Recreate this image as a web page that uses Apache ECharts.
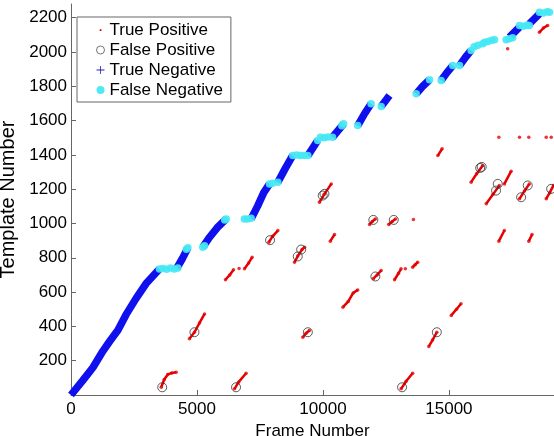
<!DOCTYPE html>
<html>
<head>
<meta charset="utf-8">
<script src="https://cdn.jsdelivr.net/npm/echarts@6/dist/echarts.min.js"></script>
<style>
html,body{margin:0;padding:0;background:#fff;}
#chart{width:554px;height:436px;}
</style>
</head>
<body>
<div id="chart"></div>
<script>
// ---- data: [frame, template] ----
const legendNames = ['True Positive', 'False Positive', 'True Negative', 'False Negative'];
const xTicks = [0, 5000, 10000, 15000];
const yTicks = [200, 400, 600, 800, 1000, 1200, 1400, 1600, 1800, 2000, 2200];

// True Negative traces (blue)
const tnSegments = [
  [[0,0],[470,85],[870,160],[1260,255],[1530,312],[1860,378],[2190,470],[2590,565],[2980,650],[3510,735]],
  [[4200,740],[4400,790],[4640,858]],
  [[5230,862],[5500,920],[5800,975],[6160,1027]],
  [[7150,1027],[7400,1100],[7650,1180],[7880,1231]],
  [[8210,1241],[8500,1320],[8800,1397]],
  [[9400,1396],[9790,1484]],
  [[10380,1503],[10820,1581]],
  [[11380,1571],[11650,1640],[11910,1698]],
  [[12310,1682],[12640,1746]],
  [[13700,1756],[13960,1800],[14230,1838]],
  [[14690,1834],[14920,1880],[15150,1921]],
  [[15420,1921],[15650,1968],[15880,2009]],
  [[17400,2086],[17800,2145]],
  [[18190,2164],[18590,2222]]
];

// False Negative points (cyan)
const fnPoints = [
  [3510,735],[3650,738],[3800,733],[3950,740],[4100,735],[4240,740],
  [4640,858],[4580,850],
  [5230,862],[5300,870],[6100,1020],[6160,1027],
  [6880,1027],[7000,1027],[7150,1030],
  [7880,1231],[8000,1235],[8210,1241],
  [8800,1397],[8950,1400],[9100,1397],[9250,1396],[9400,1396],
  [9790,1484],[9900,1503],[10050,1500],[10200,1505],[10380,1503],
  [10750,1570],[10820,1581],
  [11380,1571],[11910,1698],
  [12310,1682],
  [13700,1756],[14230,1838],
  [14690,1834],[15150,1921],
  [15420,1921],
  [15880,2009],[16000,2030],[16150,2040],[16340,2048],[16410,2057],[16550,2062],[16700,2068],[16810,2071],
  [17270,2071],[17400,2078],[17530,2083],
  [17800,2154],[17950,2150],[18100,2158],[18190,2154],
  [18590,2232],[18750,2228],[18900,2235],[18990,2232]
];

// True Positive traces (red)
const tpSegments = [
  [[3580,45],[3700,90],[3840,120],[4000,128],[4175,133]],
  [[4700,328],[4900,366],[5100,420],[5300,473]],
  [[6490,36],[6650,75],[6950,127]],
  [[6130,672],[6300,700],[6450,730]],
  [[6885,736],[7050,770],[7190,803]],
  [[7850,891],[8000,925],[8210,959]],
  [[8870,774],[9000,810],[9170,848],[9270,862]],
  [[9200,337],[9330,360],[9460,376]],
  [[14560,1396],[14730,1436]],
  [[15880,1241],[16100,1290],[16340,1338]],
  [[17200,1231],[17470,1305]],
  [[16480,1115],[16750,1170],[17000,1222]],
  [[17800,1144],[18000,1190],[18190,1231]],
  [[18860,1144],[19000,1180],[19150,1222]],
  [[9860,1124],[10050,1170],[10330,1231]],
  [[11850,994],[11960,1012],[12080,1027]],
  [[12610,994],[12750,1012],[12880,1027]],
  [[10290,897],[10460,936]],
  [[16980,897],[17200,959]],
  [[18170,897],[18300,936]],
  [[12000,678],[12150,700],[12310,726]],
  [[12840,672],[13000,710],[13100,736]],
  [[13560,745],[13660,760],[13760,774]],
  [[10790,512],[11000,545],[11200,595],[11380,613]],
  [[15090,464],[15300,500],[15480,532]],
  [[14200,283],[14350,320],[14520,366]],
  [[13100,36],[13300,80],[13560,127]],
  [[18590,2115],[18750,2140],[18920,2155]]
];
// isolated True Positive detections
const tpDots = [
  [6670,738],[13270,736],[13590,1023],[17330,2019],
  [16980,1503],[17800,1503],[18170,1503],[18860,1503],[19060,1503]
];

// False Positive points (open circles)
const fpPoints = [
  [3620,45],[4900,366],[6550,45],[7900,903],[9000,808],[9135,848],[9400,366],
  [9990,1163],[10060,1173],[12000,1021],[12810,1021],[12080,691],[13140,45],[14520,366],
  [16240,1324],[16300,1330],[16937,1231],[16870,1192],[18127,1222],[17865,1153],[19056,1202]
];

// ---- build ----
function joinSegments(segs){
  const out = [];
  segs.forEach((s, i) => { if (i) out.push(null); s.forEach(p => out.push(p)); });
  return out;
}
const tpAllDots = [].concat(...tpSegments).concat(tpDots);

const FONT = '"Liberation Sans", Arial, sans-serif';
const chart = echarts.init(document.getElementById('chart'), null, {renderer:'canvas'});
chart.setOption({
  animation: false,
  backgroundColor: '#fff',
  grid: {left: 71, right: 0, top: 4, bottom: 41, containLabel: false, outerBoundsMode: 'none'},
  xAxis: {
    type: 'value', min: 0, max: 19170, interval: 5000,
    name: 'Frame Number', nameLocation: 'middle', nameGap: 21,
    nameTextStyle: {fontSize: 17, color: '#000', fontFamily: FONT},
    axisLine: {lineStyle: {color: '#666', width: 1}},
    axisTick: {inside: true, length: 5, lineStyle: {color: '#666'}},
    axisLabel: {fontSize: 17, color: '#000', fontFamily: FONT, margin: 6, showMaxLabel: false,
      formatter: v => xTicks.includes(v) ? String(v) : ''},
    splitLine: {show: false}
  },
  yAxis: {
    type: 'value', min: 0, max: 2280, interval: 200,
    name: 'Template Number', nameLocation: 'middle', nameGap: 44,
    nameTextStyle: {fontSize: 20, color: '#000', fontFamily: FONT},
    axisLine: {show: true, lineStyle: {color: '#666', width: 1}},
    axisTick: {show: true, inside: true, length: 5, lineStyle: {color: '#666'}},
    axisLabel: {fontSize: 17, color: '#000', fontFamily: FONT, margin: 4, showMaxLabel: false,
      formatter: v => yTicks.includes(v) ? String(v) : ''},
    splitLine: {show: false}
  },
  legend: {
    orient: 'vertical', left: 77, top: 17,
    backgroundColor: '#fff', borderColor: '#666', borderWidth: 1,
    padding: [3, 8, 2, 19],
    itemWidth: 8, itemHeight: 8, itemGap: 0, itemTextGap: 16,
    textStyle: {fontSize: 17, color: '#000', fontFamily: FONT, lineHeight: 20},
    data: [
      {name: legendNames[0], icon: 'path://M0 0L0.01 0M10 10L9.99 10M4 4H6.2V6.2H4Z', itemStyle: {color: '#e00000'}},
      {name: legendNames[1], icon: 'circle', itemStyle: {color: '#fff', borderColor: '#555', borderWidth: 1}},
      {name: legendNames[2], icon: 'path://M4.5 0H5.5V4.5H10V5.5H5.5V10H4.5V5.5H0V4.5H4.5Z', itemStyle: {color: '#2020c0'}},
      {name: legendNames[3], icon: 'circle', itemStyle: {color: '#3ee6f2'}}
    ]
  },
  series: [
    {name: legendNames[2], type: 'line', data: joinSegments(tnSegments), symbol: 'none',
      connectNulls: false, lineStyle: {color: '#1010ee', width: 7.5}, itemStyle: {color: '#1010ee'}, z: 2},
    {name: legendNames[3], type: 'scatter', data: fnPoints, symbol: 'circle', symbolSize: 7.5,
      itemStyle: {color: '#44e8f4', opacity: 0.9}, z: 3},
    {name: legendNames[0], type: 'line', data: joinSegments(tpSegments), symbol: 'none',
      connectNulls: false, lineStyle: {color: '#e80000', width: 2.5}, itemStyle: {color: '#e80000'}, z: 4},
    {name: legendNames[0], type: 'scatter', data: tpAllDots, symbol: 'circle', symbolSize: 3.5,
      itemStyle: {color: '#e80000'}, z: 4},
    {name: legendNames[1], type: 'scatter', data: fpPoints, symbol: 'circle', symbolSize: 9,
      itemStyle: {color: 'rgba(0,0,0,0)', borderColor: '#333', borderWidth: 1}, z: 5}
  ]
});
</script>
</body>
</html>
